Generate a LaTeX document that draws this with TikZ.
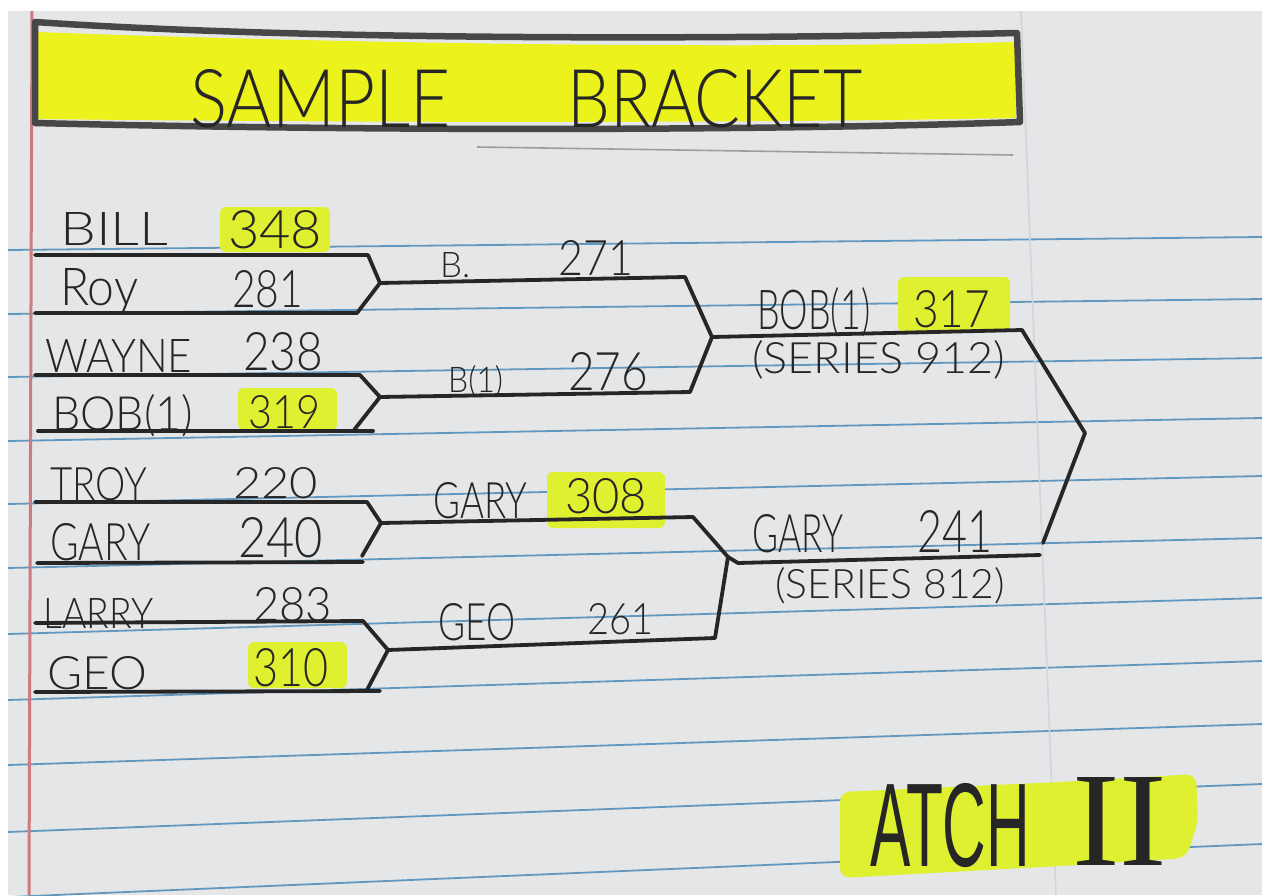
\documentclass[tikz,border=0pt]{standalone}
\usepackage{fontspec}
\usepackage{graphicx}
\newfontfamily\handfont{Lato}[UprightFont=* Light]
\newfontfamily\markfont{Liberation Sans}
\newfontfamily\romfont{Liberation Serif}
\definecolor{paper}{RGB}{229,230,232}
\definecolor{rule}{RGB}{98,152,192}
\definecolor{margin}{RGB}{205,122,128}
\definecolor{ink}{RGB}{38,38,38}
\definecolor{hl}{RGB}{222,240,48}
\definecolor{titlehl}{RGB}{236,242,28}
\definecolor{fold}{RGB}{212,213,216}
\newcommand\hwtext[3]{\resizebox{#1pt}{#2pt}{\handfont #3}}
\newcommand\mktext[3]{\resizebox{#1pt}{#2pt}{\markfont #3}}
\newcommand\romtext[3]{\resizebox{#1pt}{#2pt}{\romfont #3}}
\tikzset{
  txt/.style={inner sep=0pt, anchor=base west, text=ink},
  bracketline/.style={draw=ink, line width=3.8pt, line join=round, line cap=round},
  ruleline/.style={draw=rule, line width=1.8pt},
  hlbox/.style={fill=hl, rounded corners=6pt},
}
\begin{document}
\begin{tikzpicture}[x=1pt,y=-1pt]
\useasboundingbox (0,0) rectangle (1269,895);
% paper
\fill[white] (0,0) rectangle (1269,895);
\fill[paper] (8,11) rectangle (1262,895);
% rule lines
\begin{scope}
\clip (8,11) rectangle (1262,895);
\foreach \l/\r in {250/237,314/299,377/358,441/418,504/476,568/538,634/598,700/661,765/724,832/784,897/844}
  \draw[ruleline] (8,\l) -- (1262,\r);
\end{scope}
% margin and fold
\draw[margin, line width=3pt] (32,11) -- (29,895);
\draw[fold, line width=1.6pt] (1021,11) -- (1056,895);

% ---------- title ----------
\fill[titlehl] (38,32) .. controls (300,42) and (700,50) .. (1015,42) -- (1016,118) .. controls (700,124) and (300,122) .. (38,119) -- cycle;
\draw[ink!85, line width=6.5pt, line cap=round, line join=round]
  (35,22) .. controls (300,40) and (700,40) .. (1017,33) -- (1020,122)
  .. controls (800,130) and (400,132) .. (35,123) -- cycle;
\draw[ink!45, line width=1.6pt] (477,147) -- (1013,155);
\node[txt] (tsample) at (190,127) {\hwtext{260}{58}{SAMPLE}};
\node[txt] (tbracket) at (567,127) {\hwtext{295}{58}{BRACKET}};

% ---------- highlights ----------
\fill[hlbox] (220,207) rectangle (330,252);
\fill[hlbox] (238,388) rectangle (337,430);
\fill[hlbox] (248,642) rectangle (347,688);
\fill[hlbox] (547,472) rectangle (665,528);
\fill[hlbox] (898,277) rectangle (1010,332);
\fill[hl, rounded corners=10pt] (840,792) -- (1060,782) -- (1196,774) -- (1198,822) -- (1186,858) -- (1060,866) -- (840,878) -- cycle;

% ---------- bracket geometry ----------
% round 1
\coordinate (p1a) at (35,255);  \coordinate (p1b) at (368,255);
\coordinate (p1t) at (380,283); \coordinate (p1c) at (357,313);
\coordinate (p1d) at (35,313);
\coordinate (p2a) at (35,375);  \coordinate (p2b) at (360,375);
\coordinate (p2t) at (380,397); \coordinate (p2c) at (354,430);
\coordinate (p2d) at (38,431);  \coordinate (p2e) at (373,431);
\coordinate (p3a) at (35,502);  \coordinate (p3b) at (367,502);
\coordinate (p3t) at (381,523); \coordinate (p3c) at (362,556);
\coordinate (p3d) at (363,562); \coordinate (p3e) at (37,563);
\coordinate (p4a) at (35,623);  \coordinate (p4b) at (363,621);
\coordinate (p4t) at (388,650); \coordinate (p4c) at (367,690);
\coordinate (p4d) at (35,692);  \coordinate (p4e) at (380,691);
% round 2
\coordinate (r2a) at (685,277); \coordinate (r2t) at (712,337);
\coordinate (r2d) at (690,392);
\coordinate (r2e) at (693,517); \coordinate (r2u) at (728,557);
\coordinate (r2f) at (715,638);
% round 3
\coordinate (r3a) at (1022,330); \coordinate (fin) at (1085,433);
\coordinate (r3b) at (1043,543);
\coordinate (r3c) at (738,563);  \coordinate (r3d) at (1040,555);

\draw[bracketline] (p1a) -- (p1b) -- (p1t) -- (p1c) -- (p1d);
\draw[bracketline] (p2a) -- (p2b) -- (p2t) -- (p2c);
\draw[bracketline] (p2d) -- (p2e);
\draw[bracketline] (p3a) -- (p3b) -- (p3t) -- (p3c);
\draw[bracketline] (p3d) -- (p3e);
\draw[bracketline] (p4a) -- (p4b) -- (p4t) -- (p4c);
\draw[bracketline] (p4d) -- (p4e);
\draw[bracketline] (p1t) -- (r2a) -- (r2t) -- (r2d) -- (p2t);
\draw[bracketline] (p3t) -- (r2e) -- (r2u) -- (r2f) -- (p4t);
\draw[bracketline] (r2t) -- (r3a) -- (fin) -- (r3b);
\draw[bracketline] (r2u) -- (r3c) -- (r3d);

% ---------- texts round 1 ----------
\node[txt] (bill)  at (60,245)  {\hwtext{108}{33}{BILL}};
\node[txt] (s348)  at (228,248) {\hwtext{94}{38}{348}};
\node[txt] (roy)   at (60,305)  {\hwtext{78}{37}{Roy}};
\node[txt] (s281)  at (232,307) {\hwtext{71}{37}{281}};
\node[txt] (wayne) at (45,372)  {\hwtext{147}{33}{WAYNE}};
\node[txt] (s238)  at (243,370) {\hwtext{80}{38}{238}};
\node[txt] (bob1)  at (52,430)  {\hwtext{141}{36}{BOB(1)}};
\node[txt] (s319)  at (248,428) {\hwtext{72}{33}{319}};
\node[txt] (troy)  at (50,500)  {\hwtext{97}{33}{TROY}};
\node[txt] (s220)  at (233,498) {\hwtext{85}{31}{220}};
\node[txt] (gary1) at (50,560)  {\hwtext{100}{37}{GARY}};
\node[txt] (s240)  at (238,557) {\hwtext{85}{40}{240}};
\node[txt] (larry) at (43,628)  {\hwtext{110}{30}{LARRY}};
\node[txt] (s283)  at (253,621) {\hwtext{79}{34}{283}};
\node[txt] (geo1)  at (47,689)  {\hwtext{100}{33}{GEO}};
\node[txt] (s310)  at (253,686) {\hwtext{75}{38}{310}};

% ---------- texts round 2 ----------
\node[txt] (bdot)  at (440,277) {\hwtext{30}{25}{B.}};
\node[txt] (s271)  at (558,275) {\hwtext{75}{35}{271}};
\node[txt] (b1)    at (448,392) {\hwtext{55}{27}{B(1)}};
\node[txt] (s276)  at (568,390) {\hwtext{80}{38}{276}};
\node[txt] (gary2) at (433,518) {\hwtext{94}{36}{GARY}};
\node[txt] (s308)  at (565,513) {\hwtext{82}{35}{308}};
\node[txt] (geo2)  at (438,640) {\hwtext{77}{37}{GEO}};
\node[txt] (s261)  at (587,634) {\hwtext{66}{31}{261}};

% ---------- texts round 3 ----------
\node[txt] (bob3)  at (757,329) {\hwtext{113}{42}{BOB(1)}};
\node[txt] (s317)  at (913,327) {\hwtext{77}{37}{317}};
\node[txt] (ser1)  at (752,373) {\hwtext{253}{33}{(SERIES 912)}};
\node[txt] (gary3) at (752,552) {\hwtext{91}{38}{GARY}};
\node[txt] (s241)  at (917,552) {\hwtext{75}{42}{241}};
\node[txt] (ser2)  at (775,598) {\hwtext{230}{31}{(SERIES 812)}};

% ---------- ATCH II ----------
\node[txt] (atch) at (870,866) {\mktext{160}{83}{ATCH}};
\node[txt] (two)  at (1072,865) {\romtext{95}{88}{II}};
\end{tikzpicture}
\end{document}
